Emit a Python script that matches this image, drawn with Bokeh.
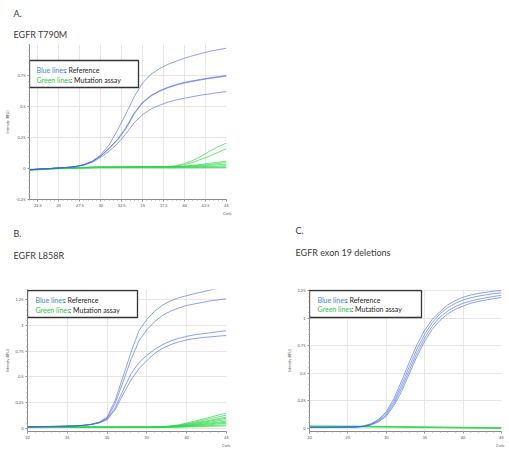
from bokeh.plotting import figure
from bokeh.models import Label, BoxAnnotation, FixedTicker, Range1d, Title
from bokeh.layouts import column, row
from bokeh.embed import file_html
from bokeh.resources import INLINE
import numpy as np

FONT = "Lato"
BLUE = "#3f63e6"
GREEN = "#2ed84a"

# ---------------- Panel A : EGFR T790M ----------------
a_letter = "A."
a_title = "EGFR T790M"
a_x_ticks = [22.5, 25, 27.5, 30, 32.5, 35, 37.5, 40, 42.5, 45]
a_x_labels = ["22.5", "25", "27.5", "30", "32.5", "35", "37.5", "40", "42.5", "45"]
a_y_ticks = [-0.25, 0, 0.25, 0.5, 0.75]
a_y_labels = ["-0.25", "0", "0.25", "0.5", "0.75"]
a_cycles = [21.5, 23, 24, 25, 26, 27, 28, 29, 30, 31, 32, 33, 34, 35, 36, 37, 38, 39, 40, 41, 42, 43, 44, 45]
a_ref_1 = [-0.01, -0.004, 0.0, 0.004, 0.009, 0.017, 0.032, 0.06, 0.11, 0.19, 0.31, 0.44, 0.58, 0.69, 0.76, 0.805, 0.84, 0.865, 0.89, 0.91, 0.928, 0.945, 0.958, 0.97]
a_ref_2 = [-0.01, -0.004, 0.0, 0.004, 0.009, 0.016, 0.03, 0.056, 0.1, 0.16, 0.23, 0.32, 0.44, 0.53, 0.585, 0.622, 0.65, 0.672, 0.69, 0.703, 0.715, 0.726, 0.736, 0.745]
a_ref_3 = [-0.01, -0.004, 0.0, 0.004, 0.009, 0.016, 0.03, 0.057, 0.102, 0.163, 0.236, 0.33, 0.45, 0.535, 0.59, 0.627, 0.655, 0.677, 0.695, 0.708, 0.72, 0.731, 0.741, 0.75]
a_ref_4 = [-0.01, -0.004, 0.0, 0.004, 0.008, 0.015, 0.028, 0.05, 0.09, 0.14, 0.2, 0.28, 0.37, 0.435, 0.48, 0.51, 0.535, 0.553, 0.567, 0.58, 0.592, 0.602, 0.612, 0.62]
a_green_cycles = [21.5, 25, 30, 35, 38, 39, 40, 41, 42, 43, 44, 45]
a_mut_1 = [-0.01, 0.004, 0.012, 0.014, 0.016, 0.022, 0.04, 0.065, 0.1, 0.14, 0.175, 0.205]
a_mut_2 = [-0.01, 0.004, 0.012, 0.014, 0.015, 0.019, 0.032, 0.05, 0.075, 0.1, 0.13, 0.16]
a_mut_3 = [-0.01, 0.003, 0.011, 0.013, 0.014, 0.016, 0.02, 0.026, 0.034, 0.042, 0.05, 0.06]
a_mut_4 = [-0.01, 0.003, 0.011, 0.012, 0.013, 0.014, 0.017, 0.021, 0.027, 0.033, 0.04, 0.048]
a_mut_5 = [-0.012, 0.002, 0.01, 0.011, 0.012, 0.013, 0.015, 0.018, 0.022, 0.026, 0.03, 0.035]
a_mut_6 = [-0.012, 0.002, 0.01, 0.01, 0.01, 0.011, 0.012, 0.013, 0.015, 0.017, 0.019, 0.022]
a_mut_7 = [-0.012, 0.0, 0.008, 0.008, 0.008, 0.009, 0.009, 0.01, 0.01, 0.011, 0.012, 0.013]
a_mut_8 = [-0.014, -0.002, 0.006, 0.006, 0.005, 0.005, 0.006, 0.006, 0.006, 0.007, 0.007, 0.008]

# ---------------- Panel B : EGFR L858R ----------------
b_letter = "B."
b_title = "EGFR L858R"
b_x_ticks = [20, 25, 30, 35, 40, 45]
b_x_labels = ["20", "25", "30", "35", "40", "45"]
b_y_ticks = [0, 0.25, 0.5, 0.75, 1, 1.25]
b_y_labels = ["0", "0.25", "0.5", "0.75", "1", "1.25"]
b_cycles = [20, 22, 24, 26, 27, 28, 29, 30, 31, 32, 33, 34, 35, 36, 37, 38, 39, 40, 41, 42, 43, 44, 45]
b_ref_1 = [0.015, 0.018, 0.02, 0.025, 0.03, 0.04, 0.06, 0.11, 0.27, 0.5, 0.74, 0.95, 1.06, 1.14, 1.2, 1.24, 1.27, 1.29, 1.31, 1.327, 1.345, 1.36, 1.372]
b_ref_2 = [0.015, 0.018, 0.02, 0.025, 0.03, 0.04, 0.058, 0.1, 0.24, 0.45, 0.67, 0.85, 0.96, 1.04, 1.1, 1.14, 1.17, 1.195, 1.21, 1.225, 1.24, 1.25, 1.26]
b_ref_3 = [0.015, 0.018, 0.02, 0.025, 0.029, 0.038, 0.055, 0.09, 0.2, 0.37, 0.53, 0.64, 0.71, 0.77, 0.815, 0.85, 0.875, 0.895, 0.91, 0.92, 0.93, 0.94, 0.95]
b_ref_4 = [0.015, 0.018, 0.02, 0.025, 0.029, 0.037, 0.053, 0.085, 0.18, 0.33, 0.47, 0.58, 0.66, 0.73, 0.78, 0.815, 0.84, 0.86, 0.873, 0.883, 0.89, 0.897, 0.903]
b_green_cycles = [20, 25, 30, 35, 37, 39, 41, 43, 45]
b_mut_1 = [0.01, 0.012, 0.012, 0.012, 0.015, 0.035, 0.07, 0.11, 0.15]
b_mut_2 = [0.01, 0.012, 0.012, 0.012, 0.015, 0.03, 0.06, 0.095, 0.13]
b_mut_3 = [0.012, 0.013, 0.012, 0.012, 0.014, 0.027, 0.052, 0.08, 0.11]
b_mut_4 = [0.012, 0.013, 0.012, 0.012, 0.014, 0.025, 0.047, 0.072, 0.1]
b_mut_5 = [0.011, 0.012, 0.012, 0.012, 0.013, 0.022, 0.04, 0.062, 0.085]
b_mut_6 = [0.011, 0.012, 0.012, 0.012, 0.013, 0.02, 0.035, 0.052, 0.07]
b_mut_7 = [0.01, 0.011, 0.011, 0.011, 0.012, 0.018, 0.03, 0.045, 0.06]
b_mut_8 = [0.01, 0.011, 0.011, 0.011, 0.012, 0.016, 0.025, 0.037, 0.05]
b_mut_9 = [0.009, 0.01, 0.01, 0.011, 0.012, 0.014, 0.02, 0.028, 0.035]
b_mut_10 = [0.009, 0.01, 0.01, 0.011, 0.012, 0.013, 0.016, 0.02, 0.025]

# ---------------- Panel C : EGFR exon 19 deletions ----------------
c_letter = "C."
c_title = "EGFR exon 19 deletions"
c_x_ticks = [20, 25, 30, 35, 40, 45]
c_x_labels = ["20", "25", "30", "35", "40", "45"]
c_y_ticks = [0, 0.25, 0.5, 0.75, 1, 1.25]
c_y_labels = ["0", "0.25", "0.5", "0.75", "1", "1.25"]
c_cycles = [20, 22, 24, 26, 27, 28, 29, 30, 31, 32, 33, 34, 35, 36, 37, 38, 39, 40, 41, 42, 43, 44, 45]
c_ref_1 = [0.008, 0.008, 0.009, 0.012, 0.02, 0.04, 0.08, 0.15, 0.27, 0.43, 0.6, 0.76, 0.89, 0.99, 1.06, 1.12, 1.16, 1.19, 1.21, 1.225, 1.235, 1.245, 1.25]
c_ref_2 = [0.008, 0.008, 0.009, 0.011, 0.018, 0.036, 0.072, 0.135, 0.245, 0.395, 0.56, 0.72, 0.855, 0.96, 1.04, 1.095, 1.135, 1.165, 1.185, 1.2, 1.212, 1.222, 1.23]
c_ref_3 = [0.007, 0.007, 0.008, 0.01, 0.016, 0.032, 0.064, 0.12, 0.225, 0.365, 0.525, 0.685, 0.82, 0.93, 1.01, 1.065, 1.105, 1.135, 1.155, 1.172, 1.185, 1.197, 1.207]
c_ref_4 = [0.007, 0.007, 0.008, 0.01, 0.015, 0.029, 0.058, 0.108, 0.205, 0.335, 0.495, 0.655, 0.79, 0.9, 0.98, 1.04, 1.08, 1.11, 1.135, 1.152, 1.165, 1.177, 1.187]
c_green_cycles = [20, 25, 30, 35, 40, 45]
c_mut_1 = [0.02, 0.019, 0.016, 0.012, 0.008, 0.005]
c_mut_2 = [0.018, 0.017, 0.014, 0.01, 0.006, 0.003]
c_mut_3 = [0.016, 0.015, 0.012, 0.008, 0.004, 0.001]
c_mut_4 = [0.014, 0.013, 0.01, 0.006, 0.002, -0.002]

legend_blue = "Blue lines"
legend_blue_rest = ": Reference"
legend_green = "Green lines"
legend_green_rest = ": Mutation assay"
y_axis_title = "Intensity (RFU)"
x_axis_title = "Cycle"


def make_panel(xr, yr, fw, fh, mbl, mbr, mbt, mbb, xticks, xlabels, yticks, ylabels,
               xminor, yminor, ref_x, refs, mut_x, muts, box, rows,
               letter, title, head_offset, gap_standoff, st, cycle_offset):
    p = figure(frame_width=fw, frame_height=fh, x_range=Range1d(*xr), y_range=Range1d(*yr),
               output_backend="svg", toolbar_location=None, title=None,
               min_border_left=mbl, min_border_right=mbr, min_border_top=mbt, min_border_bottom=mbb)
    p.outline_line_color = None
    p.background_fill_color = "white"
    p.border_fill_color = "white"
    p.xaxis.ticker = FixedTicker(ticks=xticks, minor_ticks=xminor)
    p.yaxis.ticker = FixedTicker(ticks=yticks, minor_ticks=yminor)
    p.xaxis.major_label_overrides = {t: l for t, l in zip(xticks, xlabels)}
    p.yaxis.major_label_overrides = {t: l for t, l in zip(yticks, ylabels)}
    for ax in (p.xaxis, p.yaxis):
        ax.axis_line_color = "#8a8a8a"
        ax.axis_line_width = 1
        ax.major_tick_line_color = "#8a8a8a"
        ax.major_tick_out = 2
        ax.major_tick_in = 0
        ax.minor_tick_line_color = "#a0a0a0"
        ax.minor_tick_out = 1
        ax.minor_tick_in = 0
        ax.major_label_text_font = FONT
        ax.major_label_text_font_size = "4px"
        ax.major_label_text_color = "#555555"
        ax.major_label_standoff = 2
    p.yaxis.axis_label = y_axis_title
    p.yaxis.axis_label_text_font = FONT
    p.yaxis.axis_label_text_font_size = "3.5px"
    p.yaxis.axis_label_text_font_style = "normal"
    p.yaxis.axis_label_text_color = "#555555"
    p.yaxis.axis_label_standoff = 3
    p.xgrid.grid_line_color = "#e6e6e6"
    p.ygrid.grid_line_color = "#e6e6e6"

    # blank spacer between the frame and the headings
    if gap_standoff is not None:
        p.add_layout(Title(text=" ", standoff=gap_standoff, text_font=FONT, text_font_size="2px",
                           text_color="white"), "above")
    p.add_layout(Title(text=title, align="left", vertical_align="middle", offset=head_offset,
                       standoff=st, text_font=FONT, text_font_size="9px",
                       text_font_style="normal", text_color="#3a3a3a"), "above")
    p.add_layout(Title(text=letter, align="left", vertical_align="middle", offset=head_offset,
                       standoff=st, text_font=FONT, text_font_size="9px",
                       text_font_style="normal", text_color="#3a3a3a"), "above")
    p.add_layout(Title(text=x_axis_title, align="right", offset=cycle_offset, text_font=FONT,
                       text_font_size="3.5px", text_font_style="normal", text_color="#555555",
                       standoff=0), "below")

    for ys in muts:
        p.line(mut_x, ys, line_color=GREEN, line_alpha=0.7, line_width=1.0)
    for ys in refs:
        p.line(ref_x, ys, line_color=BLUE, line_alpha=0.6, line_width=1.0)

    def fx(px):
        return xr[0] + px * (xr[1] - xr[0]) / fw

    def fy(px):
        return yr[1] - px * (yr[1] - yr[0]) / fh

    bl, br, bt, bb = box
    p.add_layout(BoxAnnotation(left=fx(bl), right=fx(br), top=fy(bt), bottom=fy(bb),
                               fill_color="white", fill_alpha=1.0, line_color="#333333",
                               line_width=1.3, line_alpha=1.0))
    (r1x, r1y), (r2x, r2y) = rows
    p.add_layout(Label(x=fx(r1x), y=fy(r1y), text=legend_blue, text_font=FONT,
                       text_font_size="7px", text_color="#3f86cf", text_baseline="middle"))
    p.add_layout(Label(x=fx(r1x), y=fy(r1y), x_offset=28.5, text=legend_blue_rest, text_font=FONT,
                       text_font_size="7px", text_color="#222222", text_baseline="middle"))
    p.add_layout(Label(x=fx(r2x), y=fy(r2y), text=legend_green, text_font=FONT,
                       text_font_size="7px", text_color="#2fc44c", text_baseline="middle"))
    p.add_layout(Label(x=fx(r2x), y=fy(r2y), x_offset=34, text=legend_green_rest, text_font=FONT,
                       text_font_size="7px", text_color="#222222", text_baseline="middle"))
    return p


pA = make_panel((21.5, 45), (-0.25, 1.0), 197, 155, 29, 14, 44, 16,
                a_x_ticks, a_x_labels, a_y_ticks, a_y_labels,
                list(np.arange(21.5, 45.01, 0.5)), list(np.arange(-0.25, 1.001, 0.05)),
                a_cycles, [a_ref_1, a_ref_2, a_ref_3, a_ref_4],
                a_green_cycles, [a_mut_1, a_mut_2, a_mut_3, a_mut_4, a_mut_5, a_mut_6, a_mut_7, a_mut_8],
                (0, 109, 16, 43), ((7, 25), (7, 35)),
                a_letter, a_title, -16, None, 8, -5)

pB = make_panel((20, 45), (-0.03, 1.35), 199, 142, 27, 56, 74, 15,
                b_x_ticks, b_x_labels, b_y_ticks, b_y_labels,
                list(np.arange(20, 45.01, 1.0)), list(np.arange(0, 1.351, 0.05)),
                b_cycles, [b_ref_1, b_ref_2, b_ref_3, b_ref_4],
                b_green_cycles, [b_mut_1, b_mut_2, b_mut_3, b_mut_4, b_mut_5, b_mut_6, b_mut_7,
                                 b_mut_8, b_mut_9, b_mut_10],
                (0, 110, 1, 28), ((8, 10), (8, 20)),
                b_letter, b_title, -14, 19, 9, -4)

pC = make_panel((20, 45), (-0.03, 1.26), 192, 142, 27, 7, 74, 15,
                c_x_ticks, c_x_labels, c_y_ticks, c_y_labels,
                list(np.arange(20, 45.01, 1.0)), list(np.arange(0, 1.26, 0.05)),
                c_cycles, [c_ref_1, c_ref_2, c_ref_3, c_ref_4],
                c_green_cycles, [c_mut_1, c_mut_2, c_mut_3, c_mut_4],
                (0, 112, 1, 28), ((8, 10), (8, 19.5)),
                c_letter, c_title, -14, 22, 9, -3)

layout = column(pA, row(pB, pC))
open("out.html", "w").write(file_html(layout, INLINE))
